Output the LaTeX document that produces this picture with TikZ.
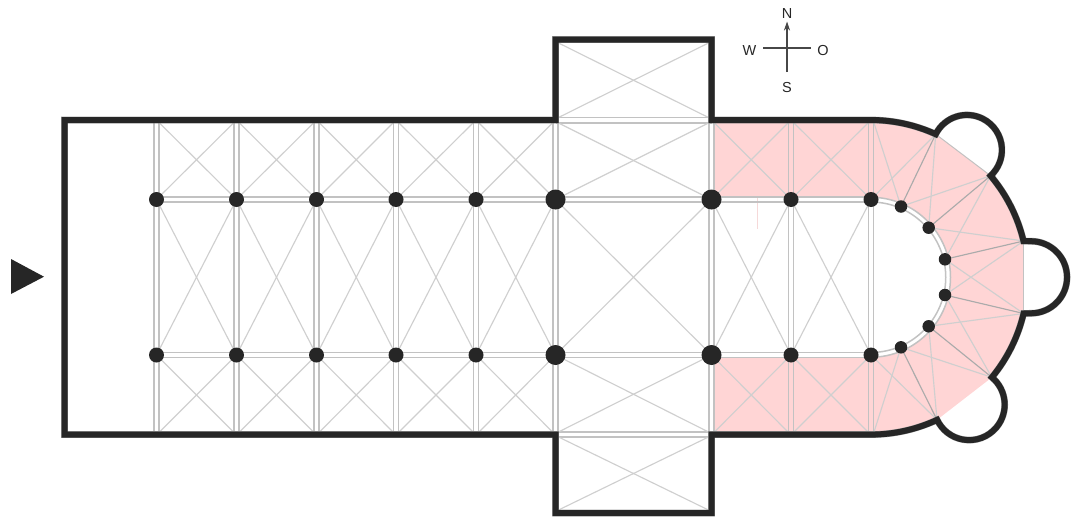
\documentclass[tikz,border=0pt]{standalone}
\usepackage{fontspec}
\setmainfont{Liberation Sans}
\usetikzlibrary{arrows.meta,backgrounds,calc}
\definecolor{wallc}{HTML}{262626}
\definecolor{pinkc}{HTML}{FFD5D5}
\definecolor{ribc}{HTML}{CFCFCF}
\definecolor{archc}{HTML}{C2C2C2}
\definecolor{darkrib}{HTML}{ABABAB}
\definecolor{strayc}{HTML}{F6D9D9}
\tikzset{
  column/.style={circle,fill=wallc,draw=none,inner sep=0pt,minimum size=15pt},
  bigcolumn/.style={column,minimum size=20pt},
  apsecolumn/.style={column,minimum size=12.5pt},
  rib/.style={draw=ribc,line width=1.15pt},
  transverse/.style={draw=darkrib,line width=1.15pt},
  arch/.style={draw=archc,line width=1.5pt},
  chord/.style={draw=archc,line width=1pt},
  wall/.style={draw=wallc,line width=6pt,miter limit=10,
    preaction={draw=black!40,line width=6.7pt}},
  compassline/.style={draw=wallc!85,line width=1.1pt},
  compasstext/.style={text=wallc,font=\fontsize{14.5}{15}\selectfont,inner sep=0pt},
  entry/.style={fill=wallc,draw=none},
  pinkbay/.style={fill=pinkc,draw=none}
}
\begin{document}
\begin{tikzpicture}[x=1pt,y=1pt,yscale=-1]
\useasboundingbox (0,0) rectangle (1080,522);
% columns
\foreach \i/\x in {1/156.5,2/236.5,3/316.5,4/396,5/476,8/791,9/871}{
  \node[column] (t\i) at (\x,199.5) {};
  \node[column] (b\i) at (\x,355) {};
}
\foreach \i/\x in {6/555.5,7/711.5}{
  \node[bigcolumn] (t\i) at (\x,199.5) {};
  \node[bigcolumn] (b\i) at (\x,355) {};
}
\foreach \i/\x/\y in {1/901/206.5,2/928.7/227.7,3/945/259.3,4/945/295,5/928.7/326.3,6/901/347.3}{
  \node[apsecolumn] (a\i) at (\x,\y) {};
}
% wall points
\foreach \i/\x in {1/156.5,2/236.5,3/316.5,4/396,5/476,6/555.5,7/711.5,8/791,9/871}{
  \coordinate (n\i) at (\x,123);
  \coordinate (s\i) at (\x,432);
}
\coordinate (wa) at (935.7,134.2);
\coordinate (wb) at (990.6,175.75);
\coordinate (wc) at (1023.6,241);
\coordinate (wd) at (1023.6,313.5);
\coordinate (we) at (991.8,377.3);
\coordinate (wf) at (937,419.8);
\coordinate (ta) at (558.5,43);
\coordinate (tb) at (708.5,43);
\coordinate (tc) at (558.5,117.5);
\coordinate (td) at (708.5,117.5);
\coordinate (ua) at (558.5,510);
\coordinate (ub) at (708.5,510);
\coordinate (uc) at (558.5,437);
\coordinate (ud) at (708.5,437);
\coordinate (sa) at (757,197);
\coordinate (sb) at (757,229);
% compass
\node[compasstext] (N) at (787,14) {N};
\node[compasstext] (W) at (749.5,51) {W};
\node[compasstext] (O) at (823,50.5) {O};
\node[compasstext] (S) at (787,87.5) {S};
\coordinate (cw) at (763,48);
\coordinate (co) at (811,48);
\coordinate (cs) at (787,72);
\coordinate (cn) at (787,21.5);
\draw[compassline] (cw) -- (co);
\draw[compassline,-{Stealth[length=9pt,width=6pt]}] (cs) -- (cn);
\fill[entry] (11,259) -- (44,276.7) -- (11,294) -- cycle;
\begin{scope}[on background layer]
  % ambulatory
  \path[pinkbay] (714,120) -- (870.5,120) arc[start angle=-90,end angle=-65.5,radius=157.25pt]
    -- (wb) arc[start angle=-40.2,end angle=-13.3,radius=157.25pt] -- (wd)
    arc[start angle=13.3,end angle=39.5,radius=157.25pt] -- (wf)
    arc[start angle=65,end angle=90,radius=157.25pt] -- (714,434.5) -- (714,357.25)
    -- (870.5,357.25) arc[start angle=90,end angle=-90,radius=80pt]
    -- (714,197.25) -- cycle;
  \draw[draw=strayc,line width=.8pt] (sa) -- (sb);
  % vertical and horizontal arches
  \foreach \i in {1,...,9}{
    \draw[arch] ([xshift=-2.4pt]n\i) -- ([xshift=-2.4pt]s\i);
    \draw[arch] ([xshift=2.4pt]n\i) -- ([xshift=2.4pt]s\i);
  }
  \draw[arch] ([yshift=-2.5pt]t1.center) -- ([yshift=-2.5pt]t9.center);
  \draw[arch] ([yshift=2.5pt]t1.center) -- ([yshift=2.5pt]t9.center);
  \draw[arch] ([yshift=-2.5pt]b1.center) -- ([yshift=-2.5pt]b9.center);
  \draw[arch] ([yshift=2.5pt]b1.center) -- ([yshift=2.5pt]b9.center);
  \draw[arch] (tc) -- (td);
  \draw[arch] (n6) -- (n7);
  \draw[arch] (s6) -- (s7);
  \draw[arch] (uc) -- (ud);
  \draw[arch] (870.5,202) arc[start angle=-90,end angle=90,radius=75.25pt];
  \draw[arch] (870.5,197.25) arc[start angle=-90,end angle=90,radius=80pt];
  % bays
  \foreach \i [count=\j from 2] in {1,...,8}{
    \draw[rib] ([xshift=3pt]n\i) -- (t\j.center);
    \draw[rib] ([xshift=-3pt]n\j) -- (t\i.center);
    \draw[rib] (t\i.center) -- (b\j.center);
    \draw[rib] (t\j.center) -- (b\i.center);
    \draw[rib] ([xshift=3pt]s\i) -- (b\j.center);
    \draw[rib] ([xshift=-3pt]s\j) -- (b\i.center);
  }
  % transept arms
  \draw[rib] (ta) -- (td);
  \draw[rib] (tb) -- (tc);
  \draw[rib] (ua) -- (ud);
  \draw[rib] (ub) -- (uc);
  % ambulatory vaults
  \draw[chord] (wa) -- (wb);
  \draw[chord] (wc) -- (wd);
  \draw[rib] (t9.center) -- (wa);
  \draw[rib] ([xshift=3pt]n9) -- (a1.center);
  \draw[transverse] (a1.center) -- (wa);
  \draw[rib] (a1.center) -- (wb);
  \draw[rib] (a2.center) -- (wa);
  \draw[transverse] (a2.center) -- (wb);
  \draw[rib] (a2.center) -- (wc);
  \draw[rib] (a3.center) -- (wb);
  \draw[transverse] (a3.center) -- (wc);
  \draw[rib] (a3.center) -- (wd);
  \draw[rib] (a4.center) -- (wc);
  \draw[transverse] (a4.center) -- (wd);
  \draw[rib] (a4.center) -- (we);
  \draw[rib] (a5.center) -- (wd);
  \draw[transverse] (a5.center) -- (we);
  \draw[rib] (a5.center) -- (wf);
  \draw[rib] (a6.center) -- (we);
  \draw[transverse] (a6.center) -- (wf);
  \draw[rib] (a6.center) -- ([xshift=3pt]s9);
  \draw[rib] (b9.center) -- (wf);
  % outer wall
  \draw[wall] (64.5,120) -- (555.5,120) -- (555.5,39.5) -- (711.5,39.5) -- (711.5,120) -- (870.5,120)
    arc[start angle=-90,end angle=-65.5,radius=157.25pt]
    arc[start angle=-153.2,end angle=47.5,radius=35pt]
    arc[start angle=-40.2,end angle=-13.3,radius=157.25pt]
    -- (1031,241.2)
    arc[start angle=-90,end angle=90,radius=36.05pt]
    -- (wd)
    arc[start angle=13.3,end angle=39.5,radius=157.25pt]
    arc[start angle=-50.2,end angle=154.6,radius=35.5pt]
    arc[start angle=65,end angle=90,radius=157.25pt]
    -- (711.5,434.5) -- (711.5,513) -- (555.5,513) -- (555.5,434.5) -- (64.5,434.5) -- cycle;
\end{scope}
\end{tikzpicture}
\end{document}
